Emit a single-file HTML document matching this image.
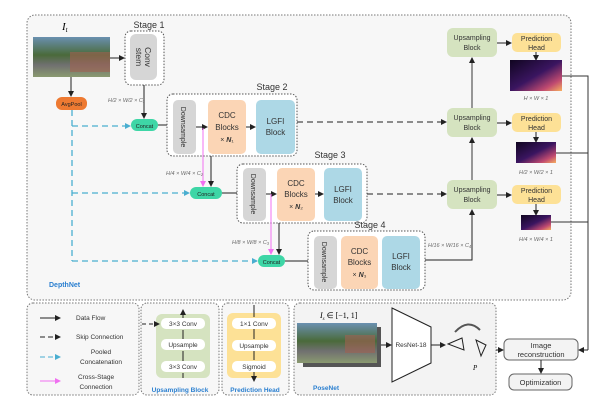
<!DOCTYPE html>
<html><head><meta charset="utf-8"><style>
body{margin:0;background:#fff}
svg{display:block;font-family:"Liberation Sans",sans-serif}
</style></head><body>
<svg width="600" height="405" viewBox="0 0 600 405" xmlns="http://www.w3.org/2000/svg">
<defs>
<marker id="a" markerWidth="6" markerHeight="6" refX="5" refY="3" orient="auto" markerUnits="userSpaceOnUse"><path d="M0,0L6,3L0,6z" fill="#222"/></marker>
<marker id="c" markerWidth="6" markerHeight="6" refX="5" refY="3" orient="auto" markerUnits="userSpaceOnUse"><path d="M0,0L6,3L0,6z" fill="#4aaed0"/></marker>
<marker id="p" markerWidth="6" markerHeight="6" refX="5" refY="3" orient="auto" markerUnits="userSpaceOnUse"><path d="M0,0L6,3L0,6z" fill="#f070f0"/></marker>
<linearGradient id="dm" x1="0" y1="0" x2="1" y2="1">
<stop offset="0" stop-color="#100520"/><stop offset="0.5" stop-color="#3a1560"/><stop offset="0.8" stop-color="#c04a70"/><stop offset="1" stop-color="#f8b060"/></linearGradient>
<linearGradient id="ph" x1="0" y1="0" x2="0" y2="1">
<stop offset="0" stop-color="#6a90b0"/><stop offset="0.45" stop-color="#4a6a3a"/><stop offset="0.7" stop-color="#707070"/><stop offset="1" stop-color="#8a9a70"/></linearGradient>
</defs>
<rect x="27" y="15" width="544" height="285" rx="8" fill="#f7f7f7" stroke="#777" stroke-dasharray="1.5,1.5"/>
<text x="62" y="30" font-size="11" font-style="italic" font-family="Liberation Serif">I<tspan font-size="7" dy="2">t</tspan></text>
<rect x="33" y="37" width="77" height="40" fill="url(#ph)"/>
<rect x="70" y="52" width="40" height="20" fill="#a06050" opacity="0.6"/>
<text x="149" y="28" font-size="9" text-anchor="middle" fill="#333">Stage 1</text>
<rect x="125" y="31" width="39" height="54" rx="6" fill="#fff" stroke="#555" stroke-dasharray="1.5,1.5"/>
<rect x="130" y="34" width="27" height="46" rx="6" fill="#d6d6d6"/>
<text transform="translate(145,57) rotate(90)" font-size="8.5" text-anchor="middle" fill="#333">Conv</text>
<text transform="translate(136,57) rotate(90)" font-size="8.5" text-anchor="middle" fill="#333">stem</text>
<line x1="110" y1="58" x2="124" y2="58" stroke="#222" marker-end="url(#a)"/>
<line x1="71" y1="77" x2="71" y2="96" stroke="#222" marker-end="url(#a)"/>
<rect x="56" y="97" width="31" height="13" rx="6" fill="#ee7a32"/>
<text x="71.5" y="106" font-size="5.5" text-anchor="middle" fill="#222">AvgPool</text>
<text x="108" y="102" font-size="5.5" fill="#666" font-style="italic">H/2 × W/2 × C₁</text>
<line x1="144" y1="85" x2="144" y2="118" stroke="#222" marker-end="url(#a)"/>
<path d="M72,110V261" stroke="#4aaed0" stroke-width="1.3" fill="none" stroke-dasharray="6,4"/>
<line x1="72" y1="126" x2="130" y2="126" stroke="#4aaed0" stroke-width="1.3" stroke-dasharray="6,4" marker-end="url(#c)"/>
<line x1="72" y1="193" x2="189" y2="193" stroke="#4aaed0" stroke-width="1.3" stroke-dasharray="6,4" marker-end="url(#c)"/>
<line x1="72" y1="261" x2="257" y2="261" stroke="#4aaed0" stroke-width="1.3" stroke-dasharray="6,4" marker-end="url(#c)"/>
<rect x="131" y="119" width="27" height="12" rx="6" fill="#3ed6a6"/><text x="144.5" y="128" font-size="5.5" text-anchor="middle" fill="#222">Concat</text>
<rect x="190" y="187" width="32" height="12" rx="6" fill="#3ed6a6"/><text x="206" y="196" font-size="5.5" text-anchor="middle" fill="#222">Concat</text>
<rect x="258" y="255" width="27" height="12" rx="6" fill="#3ed6a6"/><text x="271.5" y="264" font-size="5.5" text-anchor="middle" fill="#222">Concat</text>
<line x1="158" y1="125" x2="172" y2="125" stroke="#222" marker-end="url(#a)"/>
<line x1="222" y1="193" x2="242" y2="193" stroke="#222" marker-end="url(#a)"/>
<line x1="285" y1="261" x2="313" y2="261" stroke="#222" marker-end="url(#a)"/>
<text x="272" y="90" font-size="9" text-anchor="middle" fill="#333">Stage 2</text>
<rect x="167" y="94" width="130" height="62" rx="6" fill="#fff" stroke="#555" stroke-dasharray="1.5,1.5"/>
<rect x="173" y="100" width="23" height="54" rx="5" fill="#d6d6d6"/>
<text transform="translate(181,127) rotate(90)" font-size="7" text-anchor="middle" fill="#333">Downsample</text>
<rect x="208" y="100" width="38" height="54" rx="5" fill="#fbd5b5"/>
<text x="227" y="118" font-size="8" text-anchor="middle" fill="#333">CDC</text><text x="227" y="130" font-size="8" text-anchor="middle" fill="#333">Blocks</text><text x="227" y="142" font-size="7" text-anchor="middle" fill="#333">× <tspan font-weight="bold" font-style="italic">N</tspan>₁</text>
<rect x="256" y="100" width="39" height="54" rx="5" fill="#add8e6"/>
<text x="275.5" y="124" font-size="8" text-anchor="middle" fill="#333">LGFI</text><text x="275.5" y="135" font-size="8" text-anchor="middle" fill="#333">Block</text>
<line x1="196" y1="127" x2="207" y2="127" stroke="#222" marker-end="url(#a)"/>
<line x1="246" y1="127" x2="255" y2="127" stroke="#222" marker-end="url(#a)"/>
<line x1="203" y1="128" x2="203" y2="186" stroke="#f070f0" marker-end="url(#p)"/>
<line x1="211" y1="156" x2="211" y2="186" stroke="#222" marker-end="url(#a)"/>
<text x="166" y="175" font-size="5.5" fill="#666" font-style="italic">H/4 × W/4 × C₂</text>
<text x="330" y="158" font-size="9" text-anchor="middle" fill="#333">Stage 3</text>
<rect x="237" y="164" width="130" height="59" rx="6" fill="#fff" stroke="#555" stroke-dasharray="1.5,1.5"/>
<rect x="243" y="168" width="23" height="53" rx="5" fill="#d6d6d6"/>
<text transform="translate(251,194) rotate(90)" font-size="7" text-anchor="middle" fill="#333">Downsample</text>
<rect x="277" y="168" width="38" height="53" rx="5" fill="#fbd5b5"/>
<text x="296" y="186" font-size="8" text-anchor="middle" fill="#333">CDC</text><text x="296" y="197" font-size="8" text-anchor="middle" fill="#333">Blocks</text><text x="296" y="209" font-size="7" text-anchor="middle" fill="#333">× <tspan font-weight="bold" font-style="italic">N</tspan>₂</text>
<rect x="324" y="168" width="38" height="53" rx="5" fill="#add8e6"/>
<text x="343" y="192" font-size="8" text-anchor="middle" fill="#333">LGFI</text><text x="343" y="203" font-size="8" text-anchor="middle" fill="#333">Block</text>
<line x1="266" y1="194" x2="276" y2="194" stroke="#222" marker-end="url(#a)"/>
<line x1="315" y1="194" x2="323" y2="194" stroke="#222" marker-end="url(#a)"/>
<line x1="271" y1="194" x2="271" y2="254" stroke="#f070f0" marker-end="url(#p)"/>
<line x1="279" y1="223" x2="279" y2="254" stroke="#222" marker-end="url(#a)"/>
<text x="232" y="244" font-size="5.5" fill="#666" font-style="italic">H/8 × W/8 × C₃</text>
<text x="370" y="228" font-size="9" text-anchor="middle" fill="#333">Stage 4</text>
<rect x="308" y="231" width="117" height="59" rx="6" fill="#fff" stroke="#555" stroke-dasharray="1.5,1.5"/>
<rect x="314" y="236" width="23" height="53" rx="5" fill="#d6d6d6"/>
<text transform="translate(322,262) rotate(90)" font-size="7" text-anchor="middle" fill="#333">Downsample</text>
<rect x="341" y="236" width="37" height="53" rx="5" fill="#fbd5b5"/>
<text x="359.5" y="254" font-size="8" text-anchor="middle" fill="#333">CDC</text><text x="359.5" y="265" font-size="8" text-anchor="middle" fill="#333">Blocks</text><text x="359.5" y="277" font-size="7" text-anchor="middle" fill="#333">× <tspan font-weight="bold" font-style="italic">N</tspan>₃</text>
<rect x="382" y="236" width="38" height="53" rx="5" fill="#add8e6"/>
<text x="401" y="259" font-size="8" text-anchor="middle" fill="#333">LGFI</text><text x="401" y="270" font-size="8" text-anchor="middle" fill="#333">Block</text>
<text x="428" y="247" font-size="5.5" fill="#666" font-style="italic">H/16 × W/16 × C₄</text>
<line x1="297" y1="122" x2="446" y2="122" stroke="#222" stroke-dasharray="6,4" marker-end="url(#a)"/>
<line x1="367" y1="194" x2="446" y2="194" stroke="#222" stroke-dasharray="6,4" marker-end="url(#a)"/>
<path d="M425,260H472V210" stroke="#222" fill="none" marker-end="url(#a)"/>
<line x1="472" y1="180" x2="472" y2="138" stroke="#555" stroke-width="1.2" marker-end="url(#a)"/>
<line x1="472" y1="108" x2="472" y2="58" stroke="#555" stroke-width="1.2" marker-end="url(#a)"/>
<g font-size="7" text-anchor="middle" fill="#333">
<rect x="447" y="28" width="50" height="29" rx="6" fill="#d5e3c0"/><text x="472" y="40">Upsampling</text><text x="472" y="50">Block</text>
<rect x="447" y="108" width="50" height="29" rx="6" fill="#d5e3c0"/><text x="472" y="120">Upsampling</text><text x="472" y="130">Block</text>
<rect x="447" y="180" width="50" height="29" rx="6" fill="#d5e3c0"/><text x="472" y="192">Upsampling</text><text x="472" y="202">Block</text>
<rect x="512" y="33" width="49" height="19" rx="5" fill="#fde196"/><text x="536.5" y="41">Prediction</text><text x="536.5" y="50">Head</text>
<rect x="512" y="113" width="49" height="19" rx="5" fill="#fde196"/><text x="536.5" y="121">Prediction</text><text x="536.5" y="130">Head</text>
<rect x="512" y="185" width="49" height="19" rx="5" fill="#fde196"/><text x="536.5" y="193">Prediction</text><text x="536.5" y="202">Head</text>
</g>
<line x1="497" y1="43" x2="511" y2="43" stroke="#222" marker-end="url(#a)"/>
<line x1="497" y1="123" x2="511" y2="123" stroke="#222" marker-end="url(#a)"/>
<line x1="497" y1="195" x2="511" y2="195" stroke="#222" marker-end="url(#a)"/>
<line x1="536" y1="52" x2="536" y2="60" stroke="#222" marker-end="url(#a)"/>
<line x1="536" y1="132" x2="536" y2="142" stroke="#222" marker-end="url(#a)"/>
<line x1="536" y1="204" x2="536" y2="215" stroke="#222" marker-end="url(#a)"/>
<rect x="510" y="60" width="52" height="31" fill="url(#dm)"/>
<rect x="516" y="142" width="40" height="21" fill="url(#dm)"/>
<rect x="521" y="215" width="30" height="15" fill="url(#dm)"/>
<g font-size="5.5" fill="#666" font-style="italic" text-anchor="middle">
<text x="536" y="100">H × W × 1</text><text x="536" y="174">H/2 × W/2 × 1</text><text x="536" y="241">H/4 × W/4 × 1</text></g>
<path d="M562,76H588V350M556,153H588M551,222H588" stroke="#333" fill="none"/>
<line x1="588" y1="350" x2="579" y2="350" stroke="#222" marker-end="url(#a)"/>
<text x="49" y="287" font-size="7" font-weight="bold" fill="#2a7fd0">DepthNet</text>
<rect x="27" y="303" width="112" height="92" rx="6" fill="#f7f7f7" stroke="#777" stroke-dasharray="1.5,1.5"/>
<g font-size="6.5" fill="#333">
<line x1="40" y1="318" x2="60" y2="318" stroke="#222" marker-end="url(#a)"/><text x="76" y="320">Data Flow</text>
<line x1="40" y1="337" x2="60" y2="337" stroke="#222" stroke-dasharray="5,3" marker-end="url(#a)"/><text x="76" y="339">Skip Connection</text>
<line x1="40" y1="357" x2="60" y2="357" stroke="#4aaed0" stroke-dasharray="5,3" marker-end="url(#c)"/><text x="101" y="354" text-anchor="middle">Pooled</text><text x="101" y="364" text-anchor="middle">Concatenation</text>
<line x1="40" y1="381" x2="60" y2="381" stroke="#f070f0" marker-end="url(#p)"/><text x="96" y="379" text-anchor="middle">Cross-Stage</text><text x="96" y="389" text-anchor="middle">Connection</text>
</g>
<rect x="141" y="303" width="78" height="92" rx="6" fill="#f7f7f7" stroke="#777" stroke-dasharray="1.5,1.5"/>
<rect x="156" y="314" width="54" height="64" rx="6" fill="#d5e3c0"/>
<g font-size="6.5" text-anchor="middle" fill="#333">
<rect x="161" y="318" width="44" height="11" rx="5" fill="#fff"/><text x="183" y="326">3×3 Conv</text>
<rect x="161" y="339" width="44" height="11" rx="5" fill="#fff"/><text x="183" y="347">Upsample</text>
<rect x="161" y="361" width="44" height="11" rx="5" fill="#fff"/><text x="183" y="369">3×3 Conv</text>
</g>
<line x1="142" y1="324" x2="159" y2="324" stroke="#222" stroke-dasharray="4,3" marker-end="url(#a)"/>
<path d="M183,378V373M183,361V351M183,339V330M183,318V310" stroke="#222" marker-end="url(#a)"/>
<text x="180" y="392" font-size="6.5" font-weight="bold" text-anchor="middle" fill="#2a7fd0">Upsampling Block</text>
<rect x="222" y="303" width="67" height="92" rx="6" fill="#f7f7f7" stroke="#777" stroke-dasharray="1.5,1.5"/>
<rect x="227" y="313" width="54" height="65" rx="6" fill="#fde196"/>
<g font-size="6.5" text-anchor="middle" fill="#333">
<rect x="232" y="318" width="44" height="11" rx="5" fill="#fff"/><text x="254" y="326">1×1 Conv</text>
<rect x="232" y="340" width="44" height="11" rx="5" fill="#fff"/><text x="254" y="348">Upsample</text>
<rect x="232" y="361" width="44" height="11" rx="5" fill="#fff"/><text x="254" y="369">Sigmoid</text>
</g>
<path d="M254,305V317M254,329V339M254,351V360M254,372V381" stroke="#222" marker-end="url(#a)"/>
<text x="255" y="392" font-size="6.5" font-weight="bold" text-anchor="middle" fill="#2a7fd0">Prediction Head</text>
<rect x="294" y="303" width="202" height="92" rx="6" fill="#f3f3f3" stroke="#777" stroke-dasharray="1.5,1.5"/>
<text x="320" y="318" font-size="8" font-style="italic" font-family="Liberation Serif">I<tspan font-size="5" dy="2">s</tspan><tspan dy="-2" font-style="normal"> ∈ [−1, 1]</tspan></text>
<rect x="303" y="327" width="78" height="40" fill="#555"/>
<rect x="297" y="323" width="80" height="40" fill="url(#ph)"/>
<rect x="345" y="335" width="30" height="18" fill="#a06050" opacity="0.6"/>
<line x1="381" y1="345" x2="391" y2="345" stroke="#222" marker-end="url(#a)"/>
<polygon points="392,308 431,327 431,363 392,382" fill="#fff" stroke="#222"/>
<text x="411" y="347" font-size="6.5" text-anchor="middle" fill="#333">ResNet-18</text>
<line x1="431" y1="345" x2="445" y2="345" stroke="#222" marker-end="url(#a)"/>
<polygon points="448,344 462,338 464,350" fill="none" stroke="#222"/>
<polygon points="476,340 486,345 481,356" fill="none" stroke="#222"/>
<path d="M455,332Q468,318 480,330" fill="none" stroke="#555" stroke-width="2"/>
<text x="473" y="370" font-size="7" font-style="italic" font-family="Liberation Serif">P</text>
<text x="313" y="390" font-size="6.5" font-weight="bold" fill="#2a7fd0">PoseNet</text>
<line x1="496" y1="350" x2="503" y2="350" stroke="#222" marker-end="url(#a)"/>
<rect x="504" y="339" width="74" height="21" rx="5" fill="#f3f3f3" stroke="#666"/>
<text x="541" y="348" font-size="7.5" text-anchor="middle" fill="#333">Image</text>
<text x="541" y="357" font-size="7.5" text-anchor="middle" fill="#333">reconstruction</text>
<line x1="541" y1="360" x2="541" y2="373" stroke="#222" marker-end="url(#a)"/>
<rect x="509" y="374" width="63" height="16" rx="5" fill="#f3f3f3" stroke="#666"/>
<text x="540.5" y="385" font-size="7.5" text-anchor="middle" fill="#333">Optimization</text>
</svg>
</body></html>
